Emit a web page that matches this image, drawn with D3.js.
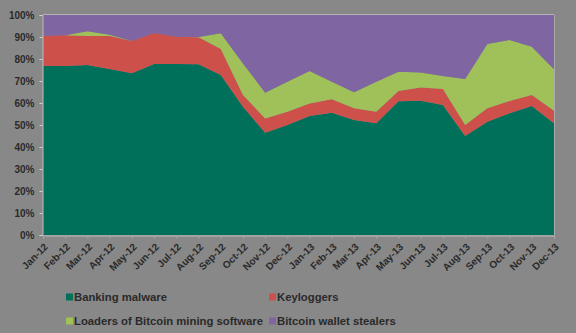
<!DOCTYPE html>
<html><head><meta charset="utf-8">
<script src="https://cdn.jsdelivr.net/npm/d3@7/dist/d3.min.js"></script>
<style>
html,body{margin:0;padding:0;background:#888888;}
svg{display:block;}
text{font-family:"Liberation Sans",Arial,sans-serif;font-weight:bold;fill:#2a2a2a;}
</style></head>
<body>
<script>
const months = ["Jan-12","Feb-12","Mar-12","Apr-12","May-12","Jun-12","Jul-12","Aug-12","Sep-12","Oct-12","Nov-12","Dec-12",
                "Jan-13","Feb-13","Mar-13","Apr-13","May-13","Jun-13","Jul-13","Aug-13","Sep-13","Oct-13","Nov-13","Dec-13"];
const bankingMalware = [76.8,76.8,77.3,75.5,73.5,77.7,77.7,77.6,72.7,58.3,46.5,50.0,54.1,55.6,52.3,50.8,60.8,61.0,59.1,45.0,51.5,55.3,58.6,50.8];
const keyloggers     = [13.8,14.0,13.2,15.0,14.7,14.1,12.4,12.3,11.8,5.3,6.5,6.0,5.7,6.1,5.3,5.2,4.6,6.1,7.3,5.0,6.1,5.6,5.0,5.7];
const bitcoinLoaders = [0,0,2.1,0.5,0,0,0,0.1,7.2,14.4,11.7,13.7,14.7,8.0,7.3,13.7,8.8,6.8,5.9,20.9,29.2,27.7,22.0,18.8];
const walletStealers = [9.4,9.2,7.4,9.0,11.8,8.2,9.9,10.0,8.3,22.0,35.3,30.3,25.5,30.3,35.1,30.3,25.8,26.1,27.7,29.1,13.2,11.4,14.4,24.7];
const yTickLabels = ["0%","10%","20%","30%","40%","50%","60%","70%","80%","90%","100%"];
const seriesNames = ["Banking malware","Keyloggers","Loaders of Bitcoin mining software","Bitcoin wallet stealers"];
const seriesColors = ["#00705a","#cd504b","#a0c05a","#8065a3"];

const W = 576, H = 333;
const mL = 43, mR = 554, mT = 15, mB = 235;

const rows = months.map((m,i)=>({month:m, s0:bankingMalware[i], s1:keyloggers[i], s2:bitcoinLoaders[i], s3:walletStealers[i]}));
const keys = ["s0","s1","s2","s3"];
const stacked = d3.stack().keys(keys).offset(d3.stackOffsetExpand)(rows);

const svg = d3.select("body").append("svg").attr("width",W).attr("height",H);

const x = d3.scalePoint().domain(months).range([mL,mR]);
const y = d3.scaleLinear().domain([0,1]).range([mB,mT]);

const area = d3.area().x(d=>x(d.data.month)).y0(d=>y(d[0])).y1(d=>y(d[1]));
svg.append("g").selectAll("path").data(stacked).join("path")
  .attr("d",area).attr("fill",(d,i)=>seriesColors[i]);

// plot border
svg.append("line").attr("x1",mL).attr("x2",mR).attr("y1",mT-0.5).attr("y2",mT-0.5).attr("stroke","#b3b3b3");
svg.append("line").attr("x1",mR+0.5).attr("x2",mR+0.5).attr("y1",mT).attr("y2",mB).attr("stroke","#b3b3b3").attr("stroke-width",0.8);

// y axis
const yAxis = d3.axisLeft(y).tickValues(d3.range(0,1.0001,0.1)).tickFormat((d,i)=>yTickLabels[i]).tickSize(3).tickPadding(5);
const gy = svg.append("g").attr("transform",`translate(${mL-0.5},0)`).call(yAxis);
gy.select(".domain").attr("stroke","#bdbdbd");
gy.selectAll(".tick line").attr("stroke","#d0d0d0");
gy.selectAll("text").attr("font-size",10).style("font-family",'"Liberation Sans",Arial,sans-serif').attr("fill","#2a2a2a");

// x axis
const xAxis = d3.axisBottom(x).tickSize(3).tickFormat(d=>d);
const gx = svg.append("g").attr("transform",`translate(0,${mB+0.5})`).call(xAxis);
gx.select(".domain").attr("stroke","#bdbdbd");
gx.selectAll(".tick line").attr("stroke","#a8a8a8");
gx.selectAll("text").attr("font-size",10).style("font-family",'"Liberation Sans",Arial,sans-serif').attr("fill","#2a2a2a")
  .attr("text-anchor","end").attr("dy",0).attr("y",0)
  .attr("transform","translate(5,12) rotate(-45)");

// legend
const legendPos = [[66,297],[269,297],[66,321],[269,321]];
const lg = svg.append("g").selectAll("g").data(seriesNames).join("g")
  .attr("transform",(d,i)=>`translate(${legendPos[i][0]},${legendPos[i][1]})`);
lg.append("rect").attr("x",0).attr("y",-3.5).attr("width",7).attr("height",7).attr("fill",(d,i)=>seriesColors[i]);
lg.append("text").attr("x",8).attr("y",4).attr("font-size",11.3).text(d=>d);
</script>
</body></html>
